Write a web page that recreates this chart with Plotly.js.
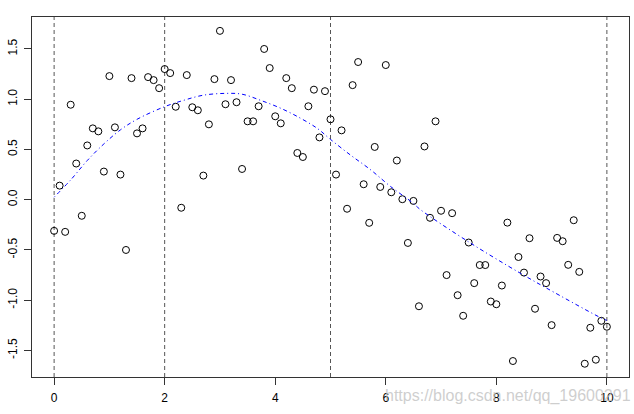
<!DOCTYPE html>
<html>
<head>
<meta charset="utf-8">
<script src="https://cdn.plot.ly/plotly-3.0.1.min.js"></script>
<style>html,body{margin:0;padding:0;background:#fff;}#chart{width:634px;height:414px;}</style>
</head>
<body>
<div id="chart"></div>
<script>
var xValues = [0.0,0.1,0.2,0.3,0.4,0.5,0.6,0.7,0.8,0.9,
  1.0,1.1,1.2,1.3,1.4,1.5,1.6,1.7,1.8,1.9,
  2.0,2.1,2.2,2.3,2.4,2.5,2.6,2.7,2.8,2.9,
  3.0,3.1,3.2,3.3,3.4,3.5,3.6,3.7,3.8,3.9,
  4.0,4.1,4.2,4.3,4.4,4.5,4.6,4.7,4.8,4.9,
  5.0,5.1,5.2,5.3,5.4,5.5,5.6,5.7,5.8,5.9,
  6.0,6.1,6.2,6.3,6.4,6.5,6.6,6.7,6.8,6.9,
  7.0,7.1,7.2,7.3,7.4,7.5,7.6,7.7,7.8,7.9,
  8.0,8.1,8.2,8.3,8.4,8.5,8.6,8.7,8.8,8.9,
  9.0,9.1,9.2,9.3,9.4,9.5,9.6,9.7,9.8,9.9,10.0];
var yValues = [-0.31,0.14,-0.32,0.945,0.36,-0.16,0.54,0.71,0.68,0.28,
  1.23,0.72,0.25,-0.50,1.21,0.66,0.71,1.22,1.19,1.11,
  1.30,1.26,0.925,-0.08,1.24,0.92,0.89,0.24,0.75,1.20,
  1.68,0.95,1.19,0.97,0.306,0.78,0.78,0.93,1.50,1.31,
  0.83,0.76,1.21,1.11,0.465,0.425,0.93,1.095,0.62,1.08,
  0.80,0.25,0.69,-0.09,1.14,1.37,0.154,-0.23,0.525,0.127,
  1.34,0.074,0.39,0.005,-0.43,-0.012,-1.06,0.53,-0.18,0.78,
  -0.11,-0.75,-0.134,-0.95,-1.155,-0.426,-0.83,-0.65,-0.65,-1.013,
  -1.04,-0.854,-0.228,-1.605,-0.57,-0.725,-0.383,-1.085,-0.764,-0.83,
  -1.248,-0.38,-0.413,-0.648,-0.204,-0.718,-1.632,-1.274,-1.592,-1.205,-1.264];
var curveX = [0,0.3,0.6,0.9,1.2,1.5,2.0,2.35,2.7,3.1,3.4,3.73,4.1,4.46,4.76,5.0,5.36,5.72,6.09,6.48,6.63,7.5,8.43,9.04,9.91,10];
var curveY = [0.025,0.197,0.39,0.555,0.695,0.80,0.926,0.99,1.04,1.058,1.05,0.99,0.91,0.81,0.71,0.60,0.445,0.30,0.13,-0.028,-0.10,-0.42,-0.73,-0.92,-1.18,-1.20];
var knots = [0,2,5,10];
var xTicks = [0,2,4,6,8,10];
var xTickText = ["0","2","4","6","8","10"];
var yTicks = [-1.5,-1.0,-0.5,0.0,0.5,1.0,1.5];
var yTickText = ["-1.5","-1.0","-0.5","0.0","0.5","1.0","1.5"];
var watermark = "https://blog.csdn.net/qq_19600291";

var traces = [
  {x: xValues, y: yValues, type: 'scatter', mode: 'markers',
   marker: {symbol: 'circle-open', size: 7, color: '#000', line: {width: 1, color: '#000'}},
   hoverinfo: 'skip', showlegend: false},
  {x: curveX, y: curveY, type: 'scatter', mode: 'lines',
   line: {color: '#0000ff', width: 1, dash: '1px,3px,4px,3px', shape: 'spline', smoothing: 1},
   hoverinfo: 'skip', showlegend: false}
];

var shapes = knots.map(function(k){
  return {type: 'line', xref: 'x', yref: 'paper', x0: k, x1: k, y0: 0, y1: 1,
          line: {color: '#555', width: 1, dash: '4px,3px'}, layer: 'below'};
});

var axisFont = {family: 'Liberation Sans, Arial, sans-serif', size: 12, color: '#000'};
var layout = {
  width: 634, height: 414,
  margin: {l: 32, r: 5, t: 17, b: 37, pad: 0},
  paper_bgcolor: '#fff', plot_bgcolor: '#fff',
  showlegend: false,
  xaxis: {range: [-0.4, 10.4], tickvals: xTicks, ticktext: xTickText,
          showgrid: false, zeroline: false, showline: true, mirror: true,
          linecolor: '#333', linewidth: 1, ticks: 'outside', ticklen: 7,
          tickcolor: '#333', tickwidth: 1, tickfont: axisFont, ticklabelstandoff: 3},
  yaxis: {range: [-1.764, 1.818], tickvals: yTicks, ticktext: yTickText,
          showgrid: false, zeroline: false, showline: true, mirror: true,
          linecolor: '#333', linewidth: 1, ticks: 'outside', ticklen: 7,
          tickcolor: '#333', tickwidth: 1, tickfont: axisFont, tickangle: -90,
          ticklabelstandoff: 2},
  shapes: shapes,
  annotations: [{text: watermark, xref: 'paper', yref: 'paper', x: 0.588, y: -0.052,
                 xanchor: 'left', yanchor: 'middle', showarrow: false,
                 font: {family: 'Liberation Sans, Arial, sans-serif', size: 16, color: 'rgba(190,190,190,0.75)'}}]
};

Plotly.newPlot('chart', traces, layout, {displayModeBar: false, staticPlot: true});
</script>
</body>
</html>
